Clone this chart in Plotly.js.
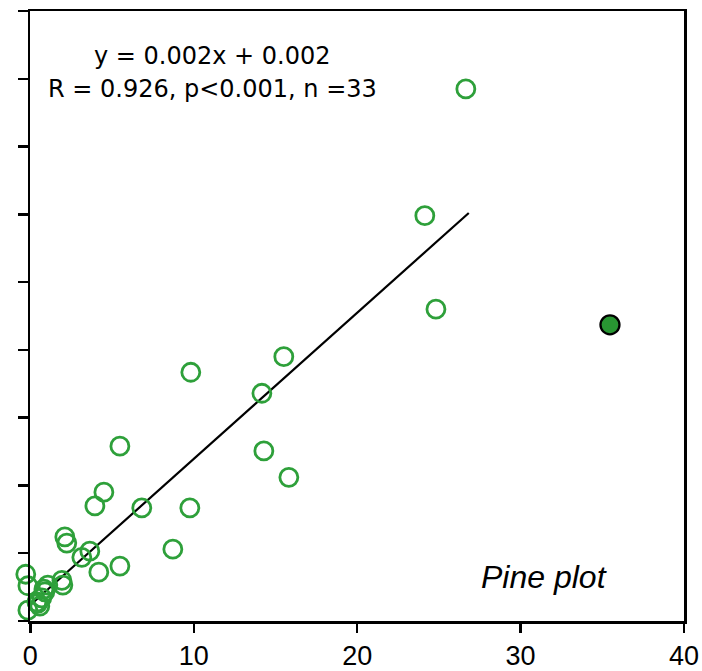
<!DOCTYPE html>
<html>
<head>
<meta charset="utf-8">
<script src="https://cdn.plot.ly/plotly-3.0.1.min.js"></script>
<style>html,body{margin:0;padding:0;background:#fff;}#chart{width:702px;height:671px;}</style>
</head>
<body>
<div id="chart"></div>
<script>
// Open-circle observations (Pine plot)
const openX = [26.65, 24.14, 24.82, 15.51, 9.82, 14.17, 5.48, 14.29, 15.82, 4.50,
               3.95, 6.82, 9.76, 8.72, 2.11, 2.23, 3.64, 3.15, 4.19, 5.48,
               -0.28, -0.15, 1.93, 1.99, 1.07, 0.89, 0.70, 0.40, 0.58, -0.15,
               0.83, 0.45];
const openY = [0.0785, 0.0598, 0.0460, 0.0390, 0.0367, 0.0336, 0.0258, 0.0251, 0.0212, 0.0190,
               0.0170, 0.0167, 0.0167, 0.0106, 0.0124, 0.0115, 0.0103, 0.0094, 0.0072, 0.0081,
               0.0069, 0.0052, 0.0060, 0.0053, 0.0053, 0.0043, 0.0034, 0.0028, 0.0022, 0.0016,
               0.0047, 0.0026];
// Filled (excluded) point
const filledX = [35.47];
const filledY = [0.0437];
// Regression line end points
const fitX = [0.0, 26.83];
const fitY = [0.00236, 0.0602];
// Axis ticks
const xTicks = [0, 10, 20, 30, 40];
const xTickText = ['0', '10', '20', '30', '40'];
const yTicks = [0, 0.01, 0.02, 0.03, 0.04, 0.05, 0.06, 0.07, 0.08, 0.09];

const green = 'rgb(46,160,58)';
const font = 'Liberation Sans, Arial, sans-serif';
const wideFont = 'DejaVu Sans, sans-serif';

// data subplot extends one unit left of 0 so markers at slightly negative x are drawn
const xLo = -1, xHi = 40;
const frameStart = (0 - xLo) / (xHi - xLo);

const traces = [
  {x: fitX, y: fitY, xaxis: 'x', yaxis: 'y', mode: 'lines', line: {color: '#000', width: 2.2}, hoverinfo: 'skip', cliponaxis: false},
  {x: openX, y: openY, xaxis: 'x', yaxis: 'y', mode: 'markers', cliponaxis: false,
   marker: {symbol: 'circle-open', size: 18, color: green, line: {color: green, width: 2.8}}},
  {x: filledX, y: filledY, xaxis: 'x', yaxis: 'y', mode: 'markers', cliponaxis: false,
   marker: {symbol: 'circle', size: 19, color: 'rgb(40,150,50)', line: {color: '#000', width: 2.3}}},
  // invisible trace to establish the frame subplot
  {x: [0], y: [0], xaxis: 'x2', yaxis: 'y2', mode: 'markers', marker: {opacity: 0}, hoverinfo: 'skip'}
];

const layout = {
  width: 702, height: 671,
  margin: {l: 14, r: 18, t: 11, b: 50, pad: 0},
  showlegend: false,
  paper_bgcolor: '#fff', plot_bgcolor: 'rgba(0,0,0,0)',
  font: {family: font, color: '#000'},
  xaxis: {range: [xLo, xHi], domain: [0, 1], visible: false, anchor: 'y'},
  yaxis: {range: [0, 0.09], domain: [0, 1], visible: false, anchor: 'x'},
  xaxis2: {
    range: [0, 40], domain: [frameStart, 1], anchor: 'y2',
    tickvals: xTicks, ticktext: xTickText,
    showgrid: false, zeroline: false, showline: true, mirror: true,
    linecolor: '#000', linewidth: 2.5,
    ticks: 'outside', ticklen: 9, tickwidth: 2.5, tickcolor: '#000',
    tickfont: {family: font, size: 27, color: '#000'}
  },
  yaxis2: {
    range: [0, 0.09], domain: [0, 1], anchor: 'x2', tickvals: yTicks, showticklabels: false,
    showgrid: false, zeroline: false, showline: true, mirror: true,
    linecolor: '#000', linewidth: 2.5,
    ticks: 'outside', ticklen: 10, tickwidth: 2.5, tickcolor: '#000'
  },
  annotations: [
    {x: 11.17, y: 0.0834, xref: 'x', yref: 'y', text: 'y = 0.002x + 0.002', showarrow: false,
     xanchor: 'center', yanchor: 'middle', font: {family: wideFont, size: 24, color: '#000'}},
    {x: 11.17, y: 0.0785, xref: 'x', yref: 'y', text: 'R = 0.926, p<0.001, n =33', showarrow: false,
     xanchor: 'center', yanchor: 'middle', font: {family: wideFont, size: 24, color: '#000'}},
    {x: 31.46, y: 0.0065, xref: 'x', yref: 'y', text: '<i>Pine plot</i>', showarrow: false,
     xanchor: 'center', yanchor: 'middle', font: {family: font, size: 32, color: '#000'}}
  ]
};

Plotly.newPlot('chart', traces, layout, {displayModeBar: false, staticPlot: true});
</script>
</body>
</html>
